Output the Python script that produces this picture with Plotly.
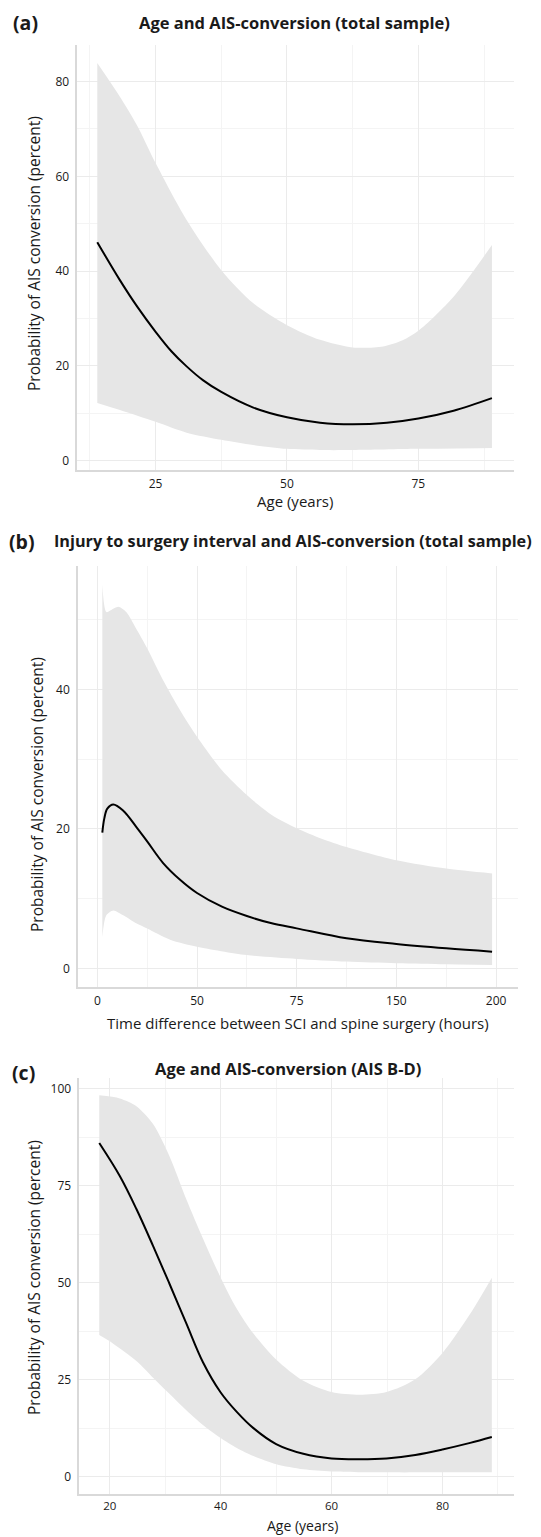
import plotly.graph_objects as go

W, H = 541, 1537

# ---------------- Panel (a): Age and AIS-conversion (total sample) ----------------
age_a = [13.9, 18.2, 21.5, 25, 28, 30.9, 34, 37.5, 43.6, 50, 56.3, 62.5, 69, 75, 81.7, 89]
prob_a = [46.1, 38.1, 32.5, 27.2, 23.1, 19.9, 17.0, 14.5, 11.2, 9.15, 8.0, 7.67, 8.0, 8.9, 10.55, 13.2]
upper_age_a = [13.9, 18.2, 21.4, 25, 30.9, 37.5, 43.6, 50, 56.3, 62.5, 68.3, 72, 75, 81.7, 89]
upper_a = [83.9, 76.8, 70.9, 62.8, 50.8, 40.2, 33.2, 28.6, 25.5, 23.9, 24.1, 25.4, 27.4, 34.6, 45.5]
lower_age_a = [13.9, 18.2, 25, 30.9, 37.5, 43.6, 50, 56.3, 62.5, 75, 89]
lower_a = [12.2, 10.7, 8.2, 5.9, 4.4, 3.3, 2.5, 2.25, 2.25, 2.5, 2.7]

# ---------------- Panel (b): Injury to surgery interval (axis in scale units) ----------------
interval_ticks = [0, 1, 2, 3, 4]
interval_labels = ["0", "50", "75", "150", "200"]
interval_b = [0.05, 0.07, 0.1, 0.16, 0.26, 0.39, 0.5, 0.66, 0.83, 1.0, 1.25, 1.5, 1.75, 2.0, 2.5, 3.0, 3.5, 3.96]
prob_b = [19.45, 21.5, 22.9, 23.5, 22.6, 20.3, 18.2, 15.1, 12.7, 10.8, 8.84, 7.5, 6.45, 5.73, 4.3, 3.49, 2.87, 2.39]
upper_int_b = [0.05, 0.09, 0.14, 0.21, 0.29, 0.39, 0.5, 0.66, 0.83, 1.0, 1.25, 1.5, 1.75, 2.0, 2.25, 2.5, 3.0, 3.5, 3.96]
upper_b = [55.0, 51.1, 51.4, 51.85, 51.1, 48.7, 45.9, 41.3, 37.0, 33.2, 28.4, 24.85, 22.0, 20.1, 18.6, 17.4, 15.5, 14.3, 13.6]
lower_int_b = [0.05, 0.09, 0.16, 0.26, 0.39, 0.5, 0.73, 1.0, 1.5, 2.0, 2.5, 3.0, 3.5, 3.96]
lower_b = [4.5, 7.6, 8.3, 7.6, 6.45, 5.7, 4.1, 3.1, 1.9, 1.34, 0.96, 0.72, 0.57, 0.48]

# ---------------- Panel (c): Age and AIS-conversion (AIS B-D) ----------------
age_c = [18.1, 21.8, 24.8, 27.8, 30.8, 33.8, 36.8, 40, 42.9, 45.9, 50, 54.9, 60, 65.1, 69.9, 75.1, 80, 85, 88.9]
prob_c = [86.0, 77.5, 69.0, 59.5, 49.6, 39.5, 29.5, 21.7, 16.7, 12.5, 8.4, 5.9, 4.7, 4.5, 4.7, 5.6, 7.0, 8.7, 10.2]
upper_age_c = [18.1, 21.8, 24.8, 27.8, 30.8, 33.8, 36.8, 40, 42.9, 45.9, 50, 54.9, 60, 65.1, 69.9, 75.1, 80, 85, 88.9]
upper_c = [98.3, 97.5, 95.5, 90.9, 82.5, 71.5, 61.4, 51.3, 43.3, 36.9, 30.2, 24.7, 21.8, 21.1, 21.8, 25.1, 31.9, 42.0, 51.3]
lower_age_c = [18.1, 20.5, 24.8, 27.8, 30.8, 33.8, 36.8, 40, 42.9, 45.9, 50, 54.9, 60, 69.9, 80, 88.9]
lower_c = [36.5, 34.4, 29.8, 25.5, 21.3, 17.1, 13.3, 9.95, 7.4, 5.3, 3.2, 1.9, 1.35, 1.1, 1.1, 1.1]

BAND = "rgb(230,230,230)"
FONT = "Open Sans"
TXT = "#1a1a1a"

fig = go.Figure()

panels = [
    ("x", "y", age_a, prob_a, upper_age_a, upper_a, lower_age_a, lower_a),
    ("x2", "y2", interval_b, prob_b, upper_int_b, upper_b, lower_int_b, lower_b),
    ("x3", "y3", age_c, prob_c, upper_age_c, upper_c, lower_age_c, lower_c),
]
for xa, ya, xs, ys, ux, uy, lx, ly in panels:
    fig.add_trace(go.Scatter(
        x=lx, y=ly, mode="lines", line=dict(width=0, shape="spline", smoothing=0.8),
        xaxis=xa, yaxis=ya, hoverinfo="skip", showlegend=False))
    fig.add_trace(go.Scatter(
        x=ux, y=uy, mode="lines", line=dict(width=0, shape="spline", smoothing=0.8),
        fill="tonexty", fillcolor=BAND,
        xaxis=xa, yaxis=ya, hoverinfo="skip", showlegend=False))
    fig.add_trace(go.Scatter(
        x=xs, y=ys, mode="lines", line=dict(color="black", width=2, shape="spline", smoothing=1.0),
        xaxis=xa, yaxis=ya, showlegend=False))


def px(x):
    return x / W


def py(y):
    return 1 - y / H


grid = dict(showgrid=True, gridcolor="#ebebeb", gridwidth=1, zeroline=False,
            showline=True, linecolor="#d9d9d9", linewidth=1.5, ticks="",
            tickfont=dict(family=FONT, size=12, color=TXT), ticklabelstandoff=4)
minor = dict(showgrid=True, gridcolor="#f4f4f4", gridwidth=1, ticks="")

fig.update_layout(
    width=W, height=H, margin=dict(l=0, r=0, t=0, b=0),
    plot_bgcolor="white", paper_bgcolor="white", showlegend=False,
    xaxis=dict(grid, domain=[px(77.3), px(514)], range=[10.1, 93.2], tickvals=[25, 50, 75],
               minor=dict(minor, tickvals=[12.5, 37.5, 62.5, 87.5]), anchor="y"),
    yaxis=dict(grid, domain=[py(470), py(45)], range=[-1.96, 87.7], tickvals=[0, 20, 40, 60, 80],
               minor=dict(minor, tickvals=[10, 30, 50, 70]), anchor="x"),
    xaxis2=dict(grid, domain=[px(78), px(518)], range=[-0.194, 4.22], tickvals=interval_ticks,
                ticktext=interval_labels, minor=dict(minor, tickvals=[0.5, 1.5, 2.5, 3.5]), anchor="y2"),
    yaxis2=dict(grid, domain=[py(987), py(566)], range=[-2.68, 57.7], tickvals=[0, 20, 40],
                minor=dict(minor, tickvals=[10, 30, 50]), anchor="x2"),
    xaxis3=dict(grid, domain=[px(79.3), px(514)], range=[14.5, 92.9], tickvals=[20, 40, 60, 80],
                minor=dict(minor, tickvals=[30, 50, 70, 90]), anchor="y3"),
    yaxis3=dict(grid, domain=[py(1494), py(1077.5)], range=[-4.48, 102.9], tickvals=[0, 25, 50, 75, 100],
                minor=dict(minor, tickvals=[12.5, 37.5, 62.5, 87.5]), anchor="x3"),
)
fig.update_xaxes(ticklabelstandoff=2)
fig.update_layout(xaxis3=dict(ticklabelstandoff=0, tickfont=dict(size=11.5)))


def ann(text, x, y, size, bold=False, xanchor="center", yanchor="middle", angle=0):
    fig.add_annotation(
        text=f"<b>{text}</b>" if bold else text, x=px(x), y=py(y), xref="paper", yref="paper",
        xanchor=xanchor, yanchor=yanchor, showarrow=False, textangle=angle,
        font=dict(family=FONT, size=size, color=TXT))


# panel letters and titles
ann("(a)", 11, 23, 19.5, bold=True, xanchor="left")
ann("Age and AIS-conversion (total sample)", 294, 23, 16.5, bold=True)
ann("(b)", 7, 541, 19.5, bold=True, xanchor="left")
ann("Injury to surgery interval and AIS-conversion (total sample)", 293, 541, 16.2, bold=True)
ann("(c)", 10, 1072, 19.5, bold=True, xanchor="left")
ann("Age and AIS-conversion (AIS B-D)", 288, 1068, 16.5, bold=True)

# axis titles
ylab = "Probability of AIS conversion (percent)"
ann(ylab, 34, 254, 15.5, angle=-90)
ann("Age (years)", 295, 501, 15)
ann(ylab, 37, 795, 15.5, angle=-90)
ann("Time difference between SCI and spine surgery (hours)", 298, 1023, 15)
ann(ylab, 34, 1278, 15.5, angle=-90)
ann("Age (years)", 302, 1537, 14, yanchor="bottom")

fig.write_html("out.html")
